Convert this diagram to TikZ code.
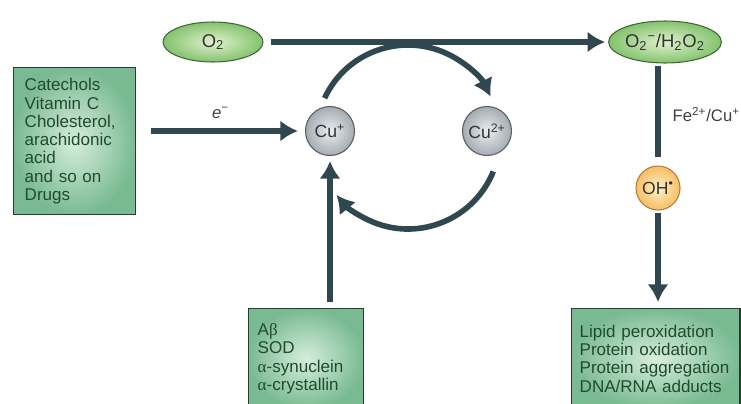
\documentclass[tikz,border=0pt]{standalone}
\usepackage{fontspec}
\setmainfont{Liberation Sans}
\newfontfamily\greek{Liberation Serif}
\usepackage{tikz}
\usetikzlibrary{arrows.meta}
\usetikzlibrary{shapes.geometric}

\definecolor{slate}{RGB}{47,72,80}
\definecolor{boxout}{RGB}{122,186,146}
\definecolor{boxin}{RGB}{214,238,220}
\definecolor{boxline}{RGB}{38,62,44}
\definecolor{boxtext}{RGB}{34,74,46}
\definecolor{elout}{RGB}{132,194,110}
\definecolor{elin}{RGB}{224,241,206}
\definecolor{elline}{RGB}{62,104,52}
\definecolor{cuout}{RGB}{164,171,178}
\definecolor{cuin}{RGB}{236,238,240}
\definecolor{culine}{RGB}{88,94,100}
\definecolor{ohout}{RGB}{246,190,100}
\definecolor{ohin}{RGB}{255,240,200}
\definecolor{ohline}{RGB}{176,126,56}

\begin{document}
\begin{tikzpicture}[x=0.02cm, y=-0.02cm]
			\tikzset{box/.style = {shape=rectangle, draw=boxline, line width=0.8pt, inner color=boxin, outer color=boxout, text=boxtext, align=left, anchor=north west, inner ysep=4pt, font=\fontsize{9.7}{10.4}\selectfont}}
			\tikzset{species/.style = {shape=ellipse, draw=elline, line width=0.6pt, inner color=elin, outer color=elout, text=black!80, inner sep=0pt, font=\fontsize{10.5}{12}\selectfont}}
			\tikzset{ion/.style = {shape=circle, draw=culine, line width=0.6pt, inner color=cuin, outer color=cuout, text=black!80, minimum size=0.98cm, inner sep=0pt, font=\fontsize{10}{11}\selectfont}}
			\tikzset{radical/.style = {ion, draw=ohline, inner color=ohin, outer color=ohout, minimum size=0.88cm}}
			\tikzset{edge/.style = {->, > = {Latex[length=10pt, width=12pt]}, draw=slate, line width=3.2pt}}
			\tikzset{link/.style = {draw=slate, line width=3.2pt}}
			\tikzset{label/.style = {text=black!75, font=\fontsize{9.5}{11}\selectfont}}
			\useasboundingbox (0,0) rectangle (741,403);
			% species
			\node[species, minimum width=2cm, minimum height=0.8cm] (o2) at (213, 42) {O\textsubscript{2}};
			\node[species, minimum width=2.2cm, minimum height=0.84cm] (ros) at (665, 42) {O\textsubscript{2}\textsuperscript{−}/H\textsubscript{2}O\textsubscript{2}};
			\node[ion] (cuI) at (330, 131) {Cu\textsuperscript{+}};
			\node[ion] (cuII) at (487, 131) {Cu\textsuperscript{2+}};
			\node[radical] (oh) at (658, 188) {OH\textsuperscript{•}};
			\coordinate (cyc) at (408, 137);
			% boxes
			\node[box, inner xsep=0.22cm, text width=2cm, minimum height=2.94cm] (donors) at (13, 67)
				{Catechols\\Vitamin C\\Cholesterol,\\arachidonic\\acid\\and so on\\Drugs};
			\node[box, inner xsep=0.18cm, text width=1.94cm, minimum height=2cm] (binders) at (248, 308)
				{A{\greek β}\\SOD\\{\greek α}-synuclein\\{\greek α}-crystallin};
			\node[box, inner xsep=0.16cm, text width=3.05cm, minimum height=2cm] (damage) at (571, 308)
				{Lipid peroxidation\\Protein oxidation\\Protein aggregation\\DNA/RNA adducts};
			% edges
			\draw[edge, shorten <=0.14cm, shorten >=0.06cm] (o2) -- (ros);
			\draw[edge, shorten <=0.3cm, shorten >=0.14cm] (donors.east |- cuI) -- (cuI) node[midway, above=2pt, label] (el) {\textit{e}\textsuperscript{−}};
			\draw[edge, shorten <=0.12cm, shorten >=0.1cm] (binders.north -| cuI) -- (cuI);
			\draw[link, shorten <=0.04cm, shorten >=0.16cm] (ros.south -| oh) -- (oh) node[pos=0.5, right=0.12cm, anchor=west, label] (fe) {Fe\textsuperscript{2+}/Cu\textsuperscript{+}};
			\draw[edge, shorten <=0.04cm, shorten >=0.12cm] (oh) -- (damage.north -| oh);
			\draw[edge] ([shift={(205:92)}]cyc) arc[start angle=205, end angle=334, radius=92];
			\draw[edge] ([shift={(22:92)}]cyc) arc[start angle=22, end angle=141, radius=92];
		\end{tikzpicture}
\end{document}
